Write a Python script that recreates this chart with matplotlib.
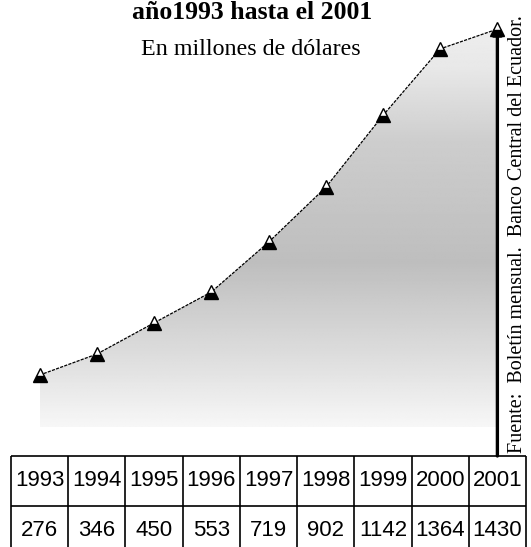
import matplotlib
matplotlib.use("Agg")
import matplotlib.pyplot as plt
import numpy as np

YEARS = [1993, 1994, 1995, 1996, 1997, 1998, 1999, 2000, 2001]
VALUES = [276, 346, 450, 553, 719, 902, 1142, 1364, 1430]
TITLE = "año1993 hasta el 2001"
SUBTITLE = "En millones de dólares"
SOURCE = "Fuente:  Boletín mensual.  Banco Central del Ecuador."

W, H = 531, 547
SERIF = ["Liberation Serif", "DejaVu Serif"]
SANS = ["Liberation Sans", "DejaVu Sans"]


def main() -> None:
    fig = plt.figure(figsize=(W / 100, H / 100), dpi=100)
    fig.patch.set_facecolor("white")

    x = np.array(YEARS, dtype=float)
    y = np.array(VALUES, dtype=float)
    base = 102.0

    # main plot area, aligned with table columns
    ax = fig.add_axes([11 / W, (H - 456) / H, 515 / W, 456 / H])
    ax.set_xlim(YEARS[0] - 0.5, YEARS[-1] + 0.5)
    ax.set_ylim(6, 1527)
    ax.axis("off")

    # gradient fill clipped to the area under the curve
    poly = ax.fill_between(x, y, base, color="none", lw=0)
    levels = np.linspace(base, 1527, 300)
    shade = np.interp(levels, [102, 300, 650, 1050, 1300, 1527],
                      [247, 225, 190, 205, 232, 242]) / 255.0
    grad = np.repeat(shade[:, None], 2, axis=1)
    im = ax.imshow(grad, cmap="gray", vmin=0, vmax=1, origin="lower",
                   extent=(x[0], x[-1], base, 1527), aspect="auto",
                   interpolation="bilinear", zorder=1)
    im.set_clip_path(poly.get_paths()[0], ax.transData)

    # vertical arrow at the last year
    ax.annotate("", xy=(x[-1], 1445), xytext=(x[-1], 6),
                arrowprops=dict(arrowstyle="-|>", color="black", lw=2.4,
                                mutation_scale=14, shrinkA=0, shrinkB=0),
                zorder=3)

    ax.plot(x, y, color="black", lw=0.9, ls=(0, (2.5, 1)), zorder=4)
    ax.plot(x, y, ls="none", marker="^", ms=10.5, fillstyle="bottom",
            markerfacecolor="black", markerfacecoloralt="white",
            markeredgecolor="black", mew=1.0, zorder=5)

    # data table below the chart
    tab = fig.add_axes([11 / W, 0, 515 / W, (H - 456) / H])
    tab.set_xlim(YEARS[0] - 0.5, YEARS[-1] + 0.5)
    tab.set_ylim(-(H - 456), 0)
    tab.axis("off")
    edges = np.arange(YEARS[0] - 0.5, YEARS[-1] + 1.0, 1.0)
    tab.vlines(edges, -120, 0, color="black", lw=1.2, clip_on=False)
    tab.hlines([0, -50], edges[0], edges[-1], color="black", lw=1.2, clip_on=False)
    for yr, val in zip(YEARS, VALUES):
        tab.text(yr, -25, str(yr), ha="center", va="center", fontsize=16,
                 family=SANS)
        tab.text(yr, -75, str(val), ha="center", va="center", fontsize=16,
                 family=SANS)

    fig.text(252 / W, 1 - 19 / H, TITLE, ha="center", va="baseline",
             fontsize=18.5, fontweight="bold", family=SERIF)
    fig.text(251 / W, 1 - 55 / H, SUBTITLE, ha="center", va="baseline",
             fontsize=17.3, family=SERIF)
    fig.text(517 / W, 1 - 453 / H, SOURCE, ha="center", va="bottom",
             rotation=90, fontsize=14.5, family=SERIF)

    fig.savefig("out.png", dpi=100)
    plt.close(fig)


if __name__ == "__main__":
    main()
